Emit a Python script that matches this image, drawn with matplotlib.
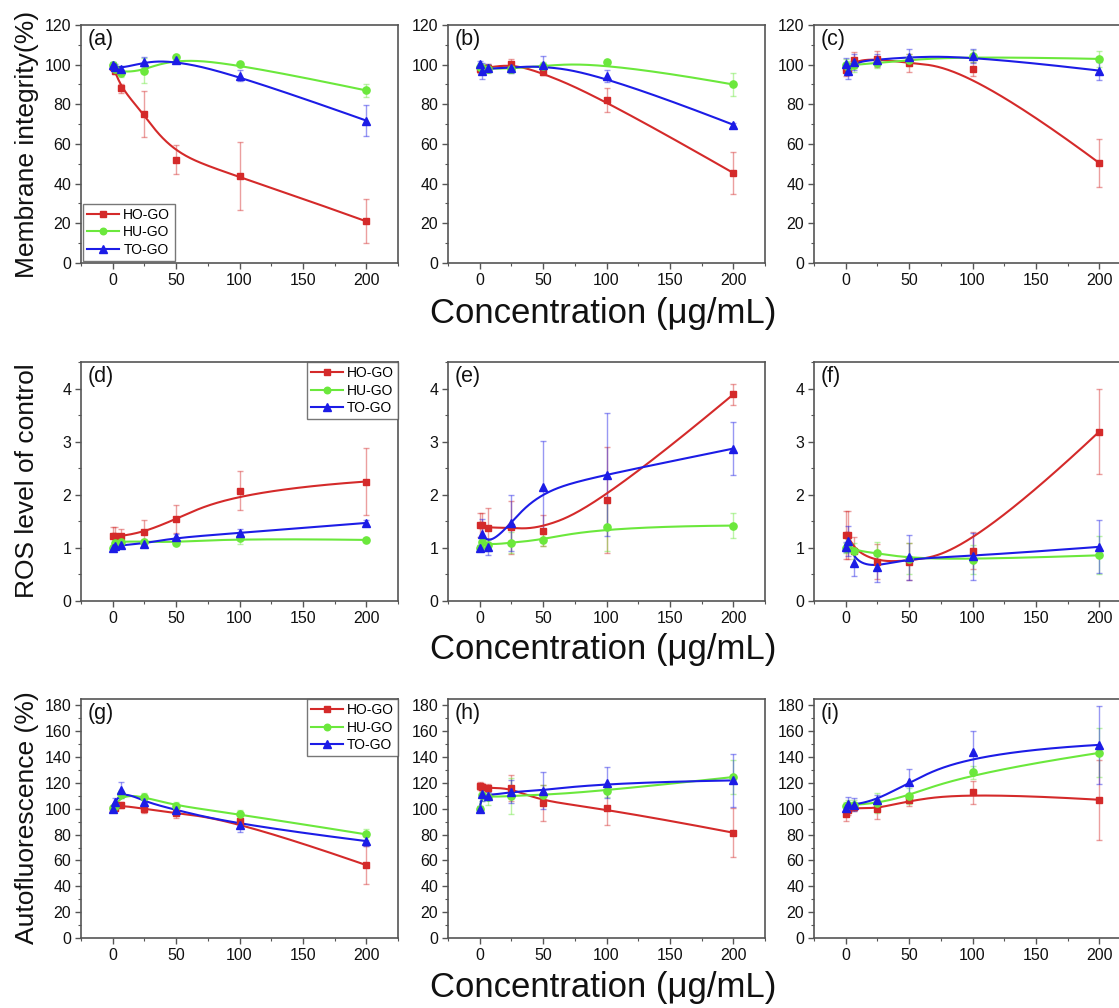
import numpy as np
import matplotlib
matplotlib.use("Agg")
import matplotlib.pyplot as plt
from matplotlib.ticker import MultipleLocator

plt.rcParams['font.family'] = ['Liberation Sans', 'DejaVu Sans']

# Concentrations (ug/mL)
conc = [0, 1.56, 6.25, 25, 50, 100, 200]
series_names = ["HO-GO", "HU-GO", "TO-GO"]

# ---- Membrane integrity (%) ----
a_ho = [99, 97, 88, 75, 52, 44, 21]
a_ho_err = [1.5, 1.5, 2.3, 11.7, 7.3, 17.2, 11.1]
a_hu = [100, 98, 96, 97, 104, 100.3, 87]
a_hu_err = [1.5, 2, 2, 6.3, 1, 1, 3.3]
a_to = [100, 99, 98, 101.3, 102.5, 94.5, 71.8]
a_to_err = [1.5, 1.5, 1.5, 2.5, 1, 2.7, 7.7]

b_ho = [97.8, 98, 98.5, 100.3, 96.1, 82, 45.4]
b_ho_err = [2, 2, 2, 2.5, 1.5, 6, 10.5]
b_hu = [99, 98.5, 98, 98, 99.5, 101.3, 90]
b_hu_err = [2, 2, 2, 2, 2, 1, 5.7]
b_to = [100.5, 96.6, 98.3, 98.3, 100, 94.5, 69.7]
b_to_err = [1.5, 4, 2, 2.5, 4.5, 3, 1]

c_ho = [97.5, 98, 102.2, 102.9, 100.8, 97.8, 50.4]
c_ho_err = [3, 3, 4, 4, 4.5, 3.5, 12]
c_hu = [100, 99, 100, 100.8, 102.5, 104.2, 102.9]
c_hu_err = [3, 3, 3.5, 2.5, 3, 3, 4]
c_to = [100.3, 96.6, 101.5, 102.5, 103.9, 104.5, 97]
c_to_err = [3, 4, 4, 3, 4, 3.5, 4.5]

# ---- ROS level of control ----
d_ho = [1.22, 1.22, 1.22, 1.30, 1.54, 2.08, 2.25]
d_ho_err = [0.17, 0.17, 0.14, 0.22, 0.26, 0.36, 0.63]
d_hu = [1.0, 1.1, 1.12, 1.12, 1.10, 1.18, 1.15]
d_hu_err = [0.04, 0.05, 0.05, 0.05, 0.04, 0.1, 0.03]
d_to = [1.0, 1.03, 1.05, 1.08, 1.20, 1.28, 1.47]
d_to_err = [0.03, 0.04, 0.05, 0.05, 0.06, 0.08, 0.05]

e_ho = [1.43, 1.43, 1.37, 1.39, 1.32, 1.90, 3.89]
e_ho_err = [0.23, 0.23, 0.38, 0.5, 0.29, 1.0, 0.2]
e_hu = [1.0, 1.12, 1.05, 1.10, 1.15, 1.40, 1.42]
e_hu_err = [0.05, 0.1, 0.1, 0.2, 0.12, 0.45, 0.24]
e_to = [1.0, 1.27, 1.02, 1.47, 2.15, 2.38, 2.87]
e_to_err = [0.05, 0.27, 0.15, 0.53, 0.87, 1.16, 0.5]

f_ho = [1.24, 1.24, 0.95, 0.74, 0.74, 0.95, 3.19]
f_ho_err = [0.45, 0.45, 0.25, 0.33, 0.35, 0.34, 0.8]
f_hu = [1.0, 1.05, 0.95, 0.90, 0.80, 0.78, 0.86]
f_hu_err = [0.1, 0.12, 0.15, 0.22, 0.3, 0.28, 0.36]
f_to = [1.02, 1.13, 0.72, 0.64, 0.82, 0.84, 1.02]
f_to_err = [0.1, 0.28, 0.24, 0.28, 0.43, 0.44, 0.5]

# ---- Autofluorescence (%) ----
g_ho = [100, 101, 102.9, 99.8, 96.7, 90.5, 56.4]
g_ho_err = [2, 2, 2, 3, 4, 4, 14.7]
g_hu = [101, 102, 111.2, 109.4, 101.9, 95.9, 80.2]
g_hu_err = [2, 2, 3, 2.5, 3, 3.5, 4.5]
g_to = [100, 105, 114.6, 105.5, 99, 87.4, 75]
g_to_err = [2, 3, 6, 3, 3, 5, 4]

h_ho = [117.9, 117, 115.9, 116.4, 104.5, 100.3, 81.5]
h_ho_err = [3, 3, 3, 10, 14, 12.5, 19]
h_hu = [100, 111, 108.9, 110, 110.7, 114, 124.6]
h_hu_err = [2, 5, 6, 14, 8, 4.5, 13.5]
h_to = [100, 111.2, 110, 113.3, 114, 120.2, 122]
h_to_err = [2, 5, 3, 9, 14.5, 12, 20.5]

i_ho = [95.7, 99, 101.1, 99.8, 106.8, 112.7, 107]
i_ho_err = [5, 4, 3, 8, 5, 9, 31]
i_hu = [102, 103, 103, 104.5, 110, 128.3, 143.3]
i_hu_err = [3, 4, 4, 8, 6, 5, 19]
i_to = [100.5, 103.4, 103, 107, 120.5, 143.8, 149.5]
i_to_err = [3, 6, 5, 4, 10, 16.5, 30]

panels = [
    ("(a)", (a_ho, a_hu, a_to), (a_ho_err, a_hu_err, a_to_err)),
    ("(b)", (b_ho, b_hu, b_to), (b_ho_err, b_hu_err, b_to_err)),
    ("(c)", (c_ho, c_hu, c_to), (c_ho_err, c_hu_err, c_to_err)),
    ("(d)", (d_ho, d_hu, d_to), (d_ho_err, d_hu_err, d_to_err)),
    ("(e)", (e_ho, e_hu, e_to), (e_ho_err, e_hu_err, e_to_err)),
    ("(f)", (f_ho, f_hu, f_to), (f_ho_err, f_hu_err, f_to_err)),
    ("(g)", (g_ho, g_hu, g_to), (g_ho_err, g_hu_err, g_to_err)),
    ("(h)", (h_ho, h_hu, h_to), (h_ho_err, h_hu_err, h_to_err)),
    ("(i)", (i_ho, i_hu, i_to), (i_ho_err, i_hu_err, i_to_err)),
]

row_ylabels = ["Membrane integrity(%)", "ROS level of control", "Autofluorescence (%)"]
row_ylim = [(0, 120), (0, 4.5), (0, 185)]
row_major = [20, 1, 20]
row_minor = [10, 0.5, 10]
xlabel = "Concentration (\u03bcg/mL)"

colors = ["#d42a2a", "#6be83c", "#1c1ce6"]
markers = ["s", "o", "^"]
msizes = [4.6, 5.2, 5.6]


def bspline(px, py, num=400, degree=3):
    """Clamped uniform B-spline using the points as control points."""
    P = np.column_stack([px, py]).astype(float)
    n = len(P)
    k = min(degree, n - 1)
    n_inner = n - k - 1
    knots = np.concatenate([np.zeros(k + 1),
                            np.linspace(0, 1, n_inner + 2)[1:-1],
                            np.ones(k + 1)])
    t = np.linspace(0, 1, num)
    # degree-0 basis
    N = np.zeros((len(knots) - 1, num))
    for i in range(len(knots) - 1):
        N[i] = (t >= knots[i]) & (t < knots[i + 1])
    N[n - 1, -1] = 1.0
    for d in range(1, k + 1):
        Nn = np.zeros((len(knots) - 1 - d, num))
        for i in range(len(knots) - 1 - d):
            den1 = knots[i + d] - knots[i]
            den2 = knots[i + d + 1] - knots[i + 1]
            term = np.zeros(num)
            if den1 > 0:
                term += (t - knots[i]) / den1 * N[i]
            if den2 > 0:
                term += (knots[i + d + 1] - t) / den2 * N[i + 1]
            Nn[i] = term
        N = Nn
    curve = N[:n].T @ P
    return curve[:, 0], curve[:, 1]


W, H = 1119, 1008
fig = plt.figure(figsize=(W / 100, H / 100), dpi=100)
fig.patch.set_facecolor("white")

col_left = [81, 448, 814]
ax_w = 317
row_top = [25, 362, 699]
row_bot = [263, 601, 938]

spine_c = "#555555"
axes = []
for idx, (tag, ys, errs) in enumerate(panels):
    r, c = divmod(idx, 3)
    rect = [col_left[c] / W, (H - row_bot[r]) / H, ax_w / W,
            (row_bot[r] - row_top[r]) / H]
    ax = fig.add_axes(rect)
    axes.append(ax)
    handles = []
    for s in range(3):
        ax.errorbar(conc, ys[s], yerr=errs[s], fmt="none", ecolor=colors[s],
                    alpha=0.45, elinewidth=1.0, capsize=2.2, capthick=1.0,
                    zorder=2 + s)
    for s in range(3):
        cx, cy = bspline(conc, ys[s])
        ax.plot(cx, cy, color=colors[s], lw=1.5, zorder=5 + s)
        ax.plot(conc, ys[s], linestyle="none", marker=markers[s],
                ms=msizes[s], color=colors[s], zorder=8 + s)
        h, = ax.plot([], [], color=colors[s], lw=1.5, marker=markers[s],
                     ms=msizes[s] - 0.5, label=series_names[s])
        handles.append(h)

    ax.set_xlim(-25, 225)
    ax.set_ylim(*row_ylim[r])
    ax.xaxis.set_major_locator(MultipleLocator(50))
    ax.xaxis.set_minor_locator(MultipleLocator(25))
    ax.yaxis.set_major_locator(MultipleLocator(row_major[r]))
    ax.yaxis.set_minor_locator(MultipleLocator(row_minor[r]))
    ax.tick_params(which="both", direction="out", top=False, right=False,
                   color=spine_c, labelsize=11.5, labelcolor="#111111")
    ax.tick_params(which="major", length=4, width=1.0, pad=3)
    ax.tick_params(which="minor", length=2.5, width=0.8)
    for sp in ax.spines.values():
        sp.set_color(spine_c)
        sp.set_linewidth(1.2)
    ax.text(0.02, 0.985, tag, transform=ax.transAxes, ha="left", va="top",
            fontsize=15.5, color="#111111")

    leg_kw = dict(fontsize=10, frameon=True, fancybox=False, numpoints=1,
                  handlelength=2.3, handletextpad=0.3, labelspacing=0.25,
                  borderpad=0.3, borderaxespad=0.15)
    if idx == 0:
        lg = ax.legend(handles=handles, loc="lower left", **leg_kw)
    elif idx in (3, 6):
        leg_kw["borderaxespad"] = 0.0
        lg = ax.legend(handles=handles, loc="upper right", **leg_kw)
    else:
        lg = None
    if lg is not None:
        lg.get_frame().set_edgecolor("#555555")
        lg.get_frame().set_linewidth(1.0)

# Row y-axis titles and shared x-axis titles
ylabel_y = [144, 481, 818]
for r in range(3):
    fig.text(27 / W, 1 - ylabel_y[r] / H, row_ylabels[r], rotation=90,
             ha="center", va="center", fontsize=19, color="#111111")
xlabel_y = [313, 650, 987]
for r in range(3):
    fig.text(603 / W, 1 - xlabel_y[r] / H, xlabel, ha="center",
             va="center", fontsize=25, color="#111111")

fig.savefig("out.png", dpi=100, facecolor="white")
